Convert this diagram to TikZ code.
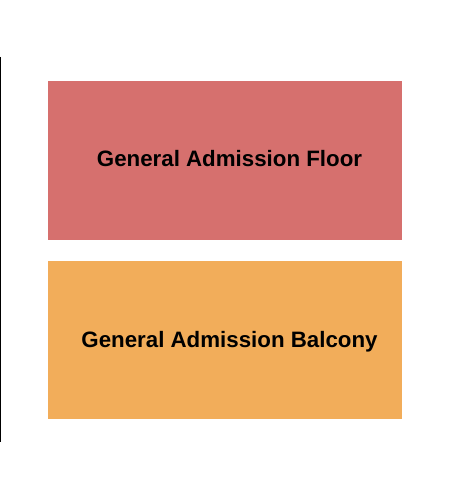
\documentclass[tikz,border=0pt]{standalone}
\usepackage{fontspec}
\setmainfont{Liberation Sans}
\definecolor{floorred}{HTML}{D6706E}
\definecolor{balconyorange}{HTML}{F2AD5A}
\tikzset{
  section/.style={font=\bfseries\fontsize{22.3}{26}\selectfont, text=black, anchor=base}
}
\begin{document}
\begin{tikzpicture}[x=1pt,y=-1pt]
 \useasboundingbox (0,0) rectangle (450,500);
 % stage edge
 \draw[line width=1.2pt] (0.6,57) -- (0.6,442);
 % floor
 \fill[color=floorred] (48,81) rectangle (402,240);
 \node[section] (floor) at (229.5,166.5) {General Admission Floor};
 % balcony
 \fill[color=balconyorange] (48,261) rectangle (402,419);
 \node[section] (balcony) at (229.5,347) {General Admission Balcony};
\end{tikzpicture}
\end{document}
